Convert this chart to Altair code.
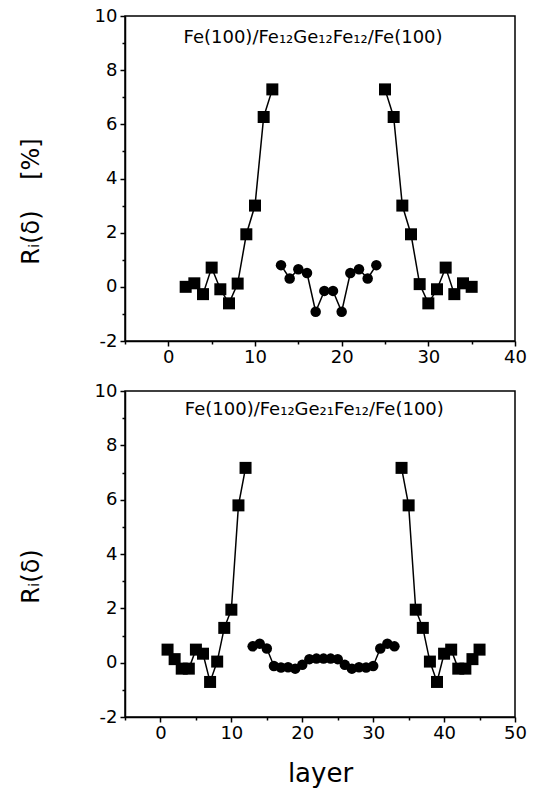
import altair as alt
import pandas as pd

# ---- data ----
top_fe_left_x = [2, 3, 4, 5, 6, 7, 8, 9, 10, 11, 12]
top_fe_left_y = [0.0, 0.13, -0.27, 0.71, -0.09, -0.61, 0.12, 1.94, 3.0, 6.27, 7.29]
top_ge_x = [13, 14, 15, 16, 17, 18, 19, 20, 21, 22, 23, 24]
top_ge_y = [0.80, 0.31, 0.65, 0.51, -0.92, -0.15, -0.15, -0.92, 0.51, 0.65, 0.31, 0.80]
top_fe_right_x = [25, 26, 27, 28, 29, 30, 31, 32, 33, 34, 35]
top_fe_right_y = [7.29, 6.27, 3.0, 1.94, 0.1, -0.61, -0.09, 0.71, -0.27, 0.13, 0.0]

bot_fe_left_x = [1, 2, 3, 4, 5, 6, 7, 8, 9, 10, 11, 12]
bot_fe_left_y = [0.48, 0.13, -0.22, -0.22, 0.48, 0.33, -0.71, 0.04, 1.28, 1.95, 5.79, 7.17]
bot_ge_x = list(range(13, 34))
bot_ge_y = [0.6, 0.7, 0.52, -0.12, -0.18, -0.17, -0.22, -0.08, 0.13, 0.15, 0.15,
            0.15, 0.13, -0.08, -0.22, -0.17, -0.18, -0.12, 0.52, 0.7, 0.6]
bot_fe_right_x = [34, 35, 36, 37, 38, 39, 40, 41, 42, 43, 44, 45]
bot_fe_right_y = [7.17, 5.79, 1.95, 1.28, 0.04, -0.71, 0.33, 0.48, -0.22, -0.22, 0.13, 0.48]

top_label = "Fe(100)/Fe\u2081\u2082Ge\u2081\u2082Fe\u2081\u2082/Fe(100)"
bot_label = "Fe(100)/Fe\u2081\u2082Ge\u2082\u2081Fe\u2081\u2082/Fe(100)"
top_label_pos = [16.7, 9.19]
bot_label_pos = [21.7, 9.3]

y_ticks = list(range(-2, 11))
top_x_ticks = list(range(-5, 41, 5))
bot_x_ticks = list(range(-5, 51, 5))

FONT = "DejaVu Sans"
NB = "\u00a0"


def make_df(segments):
    rows = []
    for name, kind, xs, ys in segments:
        for x, y in zip(xs, ys):
            rows.append({"pos": x, "R": y, "group": name, "kind": kind})
    return pd.DataFrame(rows)


def panel(df, xdomain, xticks, label, label_pos, sizes, ytitle, xtitle):
    xkw = dict(
        values=xticks,
        labelExpr="(datum.value % 10 == 0) ? toString(datum.value) : ''",
        tickSize={"condition": {"test": "datum.value % 10 != 0", "value": 3}, "value": 5},
        labelFlush=False, labelOverlap=False, labelPadding=2,
    )
    if xtitle:
        xkw.update(title=xtitle, titleFontSize=26, titleFont=FONT,
                   titleFontWeight="normal", titlePadding=18)
    else:
        xkw.update(title=None)
    x_axis = alt.Axis(**xkw)
    y_axis = alt.Axis(
        values=y_ticks,
        labelExpr="(datum.value % 2 == 0) ? toString(datum.value) : ''",
        tickSize={"condition": {"test": "datum.value % 2 != 0", "value": 3}, "value": 5},
        labelFlush=False, labelOverlap=False, labelPadding=3,
        title=ytitle, titleFontSize=24, titleFont=FONT, titleFontWeight="normal",
        titleX=-94, titleY=185, titleAlign="center", titleBaseline="middle",
    )
    xs = alt.Scale(domain=xdomain, nice=False, zero=False)
    ys = alt.Scale(domain=[-2, 10], nice=False, zero=False)
    base = alt.Chart(df)
    line = base.mark_line(color="black", strokeWidth=1.5).encode(
        x=alt.X("pos:Q", scale=xs, axis=x_axis),
        y=alt.Y("R:Q", scale=ys, axis=y_axis),
        detail="group:N",
    )
    pts = base.mark_point(filled=True, color="black", opacity=1).encode(
        x=alt.X("pos:Q", scale=xs, axis=x_axis),
        y=alt.Y("R:Q", scale=ys, axis=y_axis),
        shape=alt.Shape("kind:N", scale=alt.Scale(domain=["Fe", "Ge"], range=["square", "circle"]), legend=None),
        size=alt.Size("kind:N", scale=alt.Scale(domain=["Fe", "Ge"], range=sizes), legend=None),
    )
    txt_df = pd.DataFrame({"pos": [label_pos[0]], "R": [label_pos[1]], "t": [label]})
    txt = alt.Chart(txt_df).mark_text(font=FONT, fontSize=18, align="center", baseline="middle", color="black").encode(
        x=alt.X("pos:Q", scale=xs, axis=x_axis), y=alt.Y("R:Q", scale=ys, axis=y_axis), text="t:N"
    )
    return alt.layer(line, pts, txt)


top_df = make_df([
    ("L", "Fe", top_fe_left_x, top_fe_left_y),
    ("G", "Ge", top_ge_x, top_ge_y),
    ("R", "Fe", top_fe_right_x, top_fe_right_y),
])
bot_df = make_df([
    ("L", "Fe", bot_fe_left_x, bot_fe_left_y),
    ("G", "Ge", bot_ge_x, bot_ge_y),
    ("R", "Fe", bot_fe_right_x, bot_fe_right_y),
])

top = panel(top_df, [-5, 40], top_x_ticks, top_label, top_label_pos, [144, 110],
            "R\u1d62(\u03b4)" + NB * 4 + "[%]", None).properties(width=390, height=325)
bot = panel(bot_df, [-5, 50], bot_x_ticks, bot_label, bot_label_pos, [121, 95],
            "R\u1d62(\u03b4)", "layer").properties(width=390, height=326)

chart = alt.vconcat(top, bot, spacing=14).properties(
    padding={"left": 18, "top": 6, "right": 5, "bottom": 5}
).configure_view(
    stroke="black", strokeWidth=1.5
).configure_axis(
    domainColor="black", domainWidth=1.5, tickColor="black", tickWidth=1.5,
    labelColor="black", labelFont=FONT, labelFontSize=18, grid=False,
    titleColor="black",
)

chart.save("out.html", embed_options={"renderer": "svg", "actions": False})
